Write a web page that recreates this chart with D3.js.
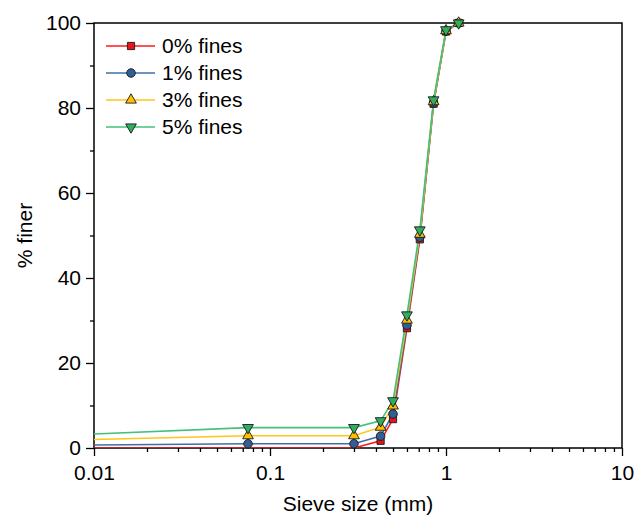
<!DOCTYPE html>
<html>
<head>
<meta charset="utf-8">
<script src="https://cdn.jsdelivr.net/npm/d3@7"></script>
<style>
  body { margin: 0; background: #fff; }
  text { font-family: "Liberation Sans", Arial, sans-serif; }
</style>
</head>
<body>
<div id="chart"></div>
<script>
// sieve sizes (mm), first one only carries the line to the axis
var sizes = [0.01, 0.075, 0.3, 0.425, 0.5, 0.6, 0.71, 0.85, 1.0, 1.18];
var fines0 = [0, 0, 0, 1.7, 6.8, 28.2, 49.1, 81.0, 98.0, 100];
var fines1 = [0.7, 1.0, 1.0, 2.8, 8.0, 28.9, 49.6, 81.2, 98.1, 100];
var fines3 = [2.0, 2.9, 2.9, 4.9, 9.9, 30.1, 50.3, 81.5, 98.2, 100];
var fines5 = [3.3, 4.8, 4.8, 6.4, 11.1, 31.3, 51.3, 81.9, 98.4, 100];
var seriesNames = ["0% fines", "1% fines", "3% fines", "5% fines"];
var xTicks = [0.01, 0.1, 1, 10];
var yTicks = [0, 20, 40, 60, 80, 100];

var W = 644, H = 520;
var margin = {top: 23, right: 22, bottom: 72, left: 94},
    width = W - margin.left - margin.right,
    height = H - margin.top - margin.bottom;

var styles = [
    {line: "#ff1a1a", fill: "#e8141c", shape: d3.symbolSquare, size: 52},
    {line: "#3d6fa8", fill: "#2f5f94", shape: d3.symbolCircle, size: 58},
    {line: "#ffc61a", fill: "#ffc000", shape: d3.symbolTriangle, size: 50},
    {line: "#45c07a", fill: "#2fae62", shape: d3.symbolTriangle, size: 50, rot: 180}
];
var allSeries = [fines0, fines1, fines3, fines5];

var svg = d3.select("#chart").append("svg")
    .attr("width", W)
    .attr("height", H)
  .append("g")
    .attr("transform", "translate(" + margin.left + "," + margin.top + ")");

var x = d3.scaleLog().domain([0.01, 10]).range([0, width]);
var y = d3.scaleLinear().domain([0, 100]).range([height, 0]);

// minor ticks
var xMinor = [];
[0.01, 0.1, 1].forEach(function(d) {
    for (var k = 2; k <= 9; k++) xMinor.push(d * k);
});
var yMinor = d3.range(10, 100, 20);

svg.append("g")
    .attr("transform", "translate(0," + height + ")")
    .call(d3.axisBottom(x).tickValues(xMinor).tickSize(4).tickFormat(""))
    .call(function(g) { g.select(".domain").remove(); });
svg.append("g")
    .call(d3.axisLeft(y).tickValues(yMinor).tickSize(4).tickFormat(""))
    .call(function(g) { g.select(".domain").remove(); });

svg.append("g")
    .attr("transform", "translate(0," + height + ")")
    .call(d3.axisBottom(x).tickValues(xTicks).tickSize(8).tickPadding(9)
        .tickFormat(function(d) { return d >= 1 ? d3.format("d")(d) : d3.format(".2~f")(d); }));
svg.append("g")
    .call(d3.axisLeft(y).tickValues(yTicks).tickSize(8).tickPadding(5));

svg.selectAll(".tick line").attr("stroke", "#000").attr("stroke-width", 1.3);
svg.selectAll(".tick text").style("font-size", "21px").attr("fill", "#000");
svg.selectAll(".domain").remove();

// frame
svg.append("rect")
    .attr("width", width)
    .attr("height", height)
    .attr("fill", "none")
    .attr("stroke", "#000")
    .attr("stroke-width", 1.5);

svg.append("defs").append("clipPath").attr("id", "clip")
  .append("rect").attr("width", width).attr("height", height);

var line = d3.line()
    .x(function(d) { return x(d[0]); })
    .y(function(d) { return y(d[1]); });

allSeries.forEach(function(vals, i) {
    var pts = sizes.map(function(s, j) { return [s, vals[j]]; });
    svg.append("path")
        .datum(pts)
        .attr("clip-path", "url(#clip)")
        .attr("fill", "none")
        .attr("stroke", styles[i].line)
        .attr("stroke-width", 1.6)
        .attr("d", line);
});

allSeries.forEach(function(vals, i) {
    var st = styles[i];
    var pts = sizes.map(function(s, j) { return [s, vals[j]]; })
        .slice(1)
        .filter(function(d) { return d[1] > 0; });
    svg.append("g").selectAll("path")
        .data(pts)
        .enter().append("path")
        .attr("d", d3.symbol().type(st.shape).size(st.size))
        .attr("transform", function(d) {
            return "translate(" + x(d[0]) + "," + y(d[1]) + ")" + (st.rot ? " rotate(" + st.rot + ")" : "");
        })
        .attr("fill", st.fill)
        .attr("stroke", "#1a1a1a")
        .attr("stroke-width", 0.9);
});

// legend
var legend = svg.append("g").attr("transform", "translate(12,23)");
seriesNames.forEach(function(name, i) {
    var st = styles[i];
    var g = legend.append("g").attr("transform", "translate(0," + i * 27 + ")");
    g.append("line")
        .attr("x1", 0).attr("x2", 49)
        .attr("stroke", st.line).attr("stroke-width", 1.6);
    g.append("path")
        .attr("d", d3.symbol().type(st.shape).size(st.size))
        .attr("transform", "translate(25,0)" + (st.rot ? " rotate(" + st.rot + ")" : ""))
        .attr("fill", st.fill)
        .attr("stroke", "#1a1a1a")
        .attr("stroke-width", 0.9);
    g.append("text")
        .attr("x", 56)
        .attr("dy", "0.35em")
        .style("font-size", "21px")
        .text(name);
});

// axis titles
svg.append("text")
    .attr("x", width / 2)
    .attr("y", height + 63)
    .attr("text-anchor", "middle")
    .style("font-size", "21px")
    .text("Sieve size (mm)");

svg.append("text")
    .attr("transform", "translate(" + (-62) + "," + (height / 2) + ") rotate(-90)")
    .attr("text-anchor", "middle")
    .style("font-size", "21px")
    .text("% finer");
</script>
</body>
</html>
